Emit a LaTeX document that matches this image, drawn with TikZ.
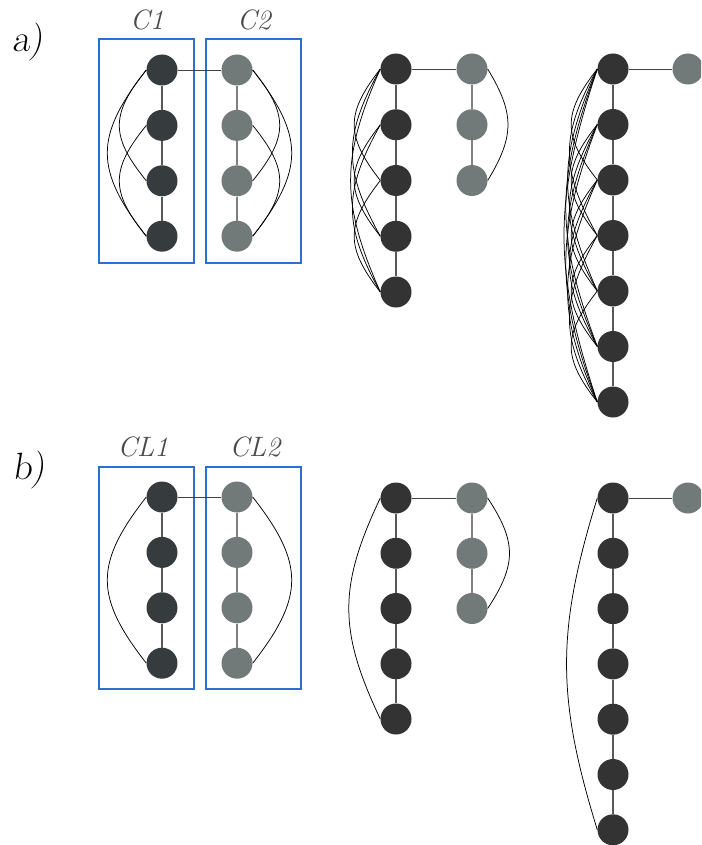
\documentclass[tikz,border=0pt]{standalone}
\usetikzlibrary{calc}
\definecolor{dslate}{HTML}{363C3E}
\definecolor{dgray}{HTML}{333333}
\definecolor{lgray}{HTML}{717979}
\definecolor{boxblue}{HTML}{2C6FD2}
\definecolor{labgray}{HTML}{4A4A4A}
\tikzset{
  nd/.style={circle,inner sep=0pt,minimum size=31pt,draw=none},
  ndS/.style={nd,fill=dslate},
  ndD/.style={nd,fill=dgray},
  ndL/.style={nd,fill=lgray},
  chainD/.style={line width=1.2pt,draw=black!65},
  chainL/.style={line width=1.2pt,draw=black!50},
  link/.style={line width=0.8pt,draw=black!75},
  arcline/.style={line width=0.75pt,draw=black},
  clbox/.style={line width=1.6pt,draw=boxblue},
  clab/.style={font=\fontsize{28}{30}\selectfont\itshape,text=labgray},
  plab/.style={font=\fontsize{38}{40}\selectfont\slshape,text=black}
}
\newcommand\larc[3]{\draw[arcline] (#1.west) .. controls ($(#1.west)!0.4!(#2.west)+({-(#3)},0)$) and ($(#1.west)!0.6!(#2.west)+({-(#3)},0)$) .. (#2.west);}
\newcommand\rarc[3]{\draw[arcline] (#1.east) .. controls ($(#1.east)!0.4!(#2.east)+({#3},0)$) and ($(#1.east)!0.6!(#2.east)+({#3},0)$) .. (#2.east);}
\begin{document}
\begin{tikzpicture}[x=1pt,y=-1pt]
\useasboundingbox (0,0) rectangle (701,845);
\clip (0,0) rectangle (701,845);
% ---------- panel labels
\node[plab] (la) at (28,42) {a)};
\node[plab] (lb) at (29,470) {b)};
% ---------- cluster boxes
\draw[clbox] (99,39) rectangle (194,263);
\draw[clbox] (206,39) rectangle (301,263);
\draw[clbox] (99,467) rectangle (194,689);
\draw[clbox] (206,467) rectangle (301,689);
\node[clab] (tC1) at (147,20) {C1};
\node[clab] (tC2) at (254,20) {C2};
\node[clab] (tCL1) at (143,447) {CL1};
\node[clab] (tCL2) at (255,447) {CL2};
% ---------- panel a nodes
\foreach \i in {1,...,4} {
  \node[ndS] (aL\i) at (162,{70+55.4*(\i-1)}) {};
  \node[ndL] (aR\i) at (237,{70+55.4*(\i-1)}) {};
}
\foreach \i in {1,...,5} { \node[ndD] (aM\i) at (396,{69+55.75*(\i-1)}) {}; }
\foreach \i in {1,...,3} { \node[ndL] (aG\i) at (472,{69+55.75*(\i-1)}) {}; }
\foreach \i in {1,...,7} { \node[ndD] (aN\i) at (613,{69+55.5*(\i-1)}) {}; }
\node[ndL] (aH1) at (688,69) {};
% ---------- panel b nodes
\foreach \i in {1,...,4} {
  \node[ndS] (bL\i) at (162,{497+55.4*(\i-1)}) {};
  \node[ndL] (bR\i) at (237,{497+55.4*(\i-1)}) {};
}
\foreach \i in {1,...,5} { \node[ndD] (bM\i) at (396,{498+55.25*(\i-1)}) {}; }
\foreach \i in {1,...,3} { \node[ndL] (bG\i) at (472,{498+55.25*(\i-1)}) {}; }
\foreach \i in {1,...,7} { \node[ndD] (bN\i) at (613,{498+55.3*(\i-1)}) {}; }
\node[ndL] (bH1) at (688,498) {};
% ---------- chains
\foreach \p in {a,b} {
  \foreach \i/\j in {1/2,2/3,3/4} { \draw[chainD] (\p L\i) -- (\p L\j); \draw[chainL] (\p R\i) -- (\p R\j); }
  \foreach \i/\j in {1/2,2/3,3/4,4/5} { \draw[chainD] (\p M\i) -- (\p M\j); }
  \foreach \i/\j in {1/2,2/3} { \draw[chainL] (\p G\i) -- (\p G\j); }
  \foreach \i/\j in {1/2,2/3,3/4,4/5,5/6,6/7} { \draw[chainD] (\p N\i) -- (\p N\j); }
  \draw[link] (\p L1) -- (\p R1);
  \draw[link] (\p M1) -- (\p G1);
  \draw[link] (\p N1) -- (\p H1);
}
% ---------- panel a skip arcs
\larc{aL1}{aL3}{36}
\larc{aL1}{aL4}{52}
\larc{aL2}{aL4}{36}
\rarc{aR1}{aR3}{36}
\rarc{aR1}{aR4}{52}
\rarc{aR2}{aR4}{36}
\foreach \i in {1,...,5} {
  \foreach \j in {1,...,5} {
    \pgfmathtruncatemacro\dd{\j-\i}
    \ifnum\dd>1 \larc{aM\i}{aM\j}{30+2.4*\dd}\fi
  }
}
\rarc{aG1}{aG3}{27}
\foreach \i in {1,...,7} {
  \foreach \j in {1,...,7} {
    \pgfmathtruncatemacro\dd{\j-\i}
    \ifnum\dd>1 \larc{aN\i}{aN\j}{30+2.4*\dd}\fi
  }
}
% ---------- panel b arcs
\larc{bL1}{bL4}{52}
\rarc{bR1}{bR4}{52}
\larc{bM1}{bM5}{42}
\rarc{bG1}{bG3}{29}
\larc{bN1}{bN7}{41}
\end{tikzpicture}
\end{document}
